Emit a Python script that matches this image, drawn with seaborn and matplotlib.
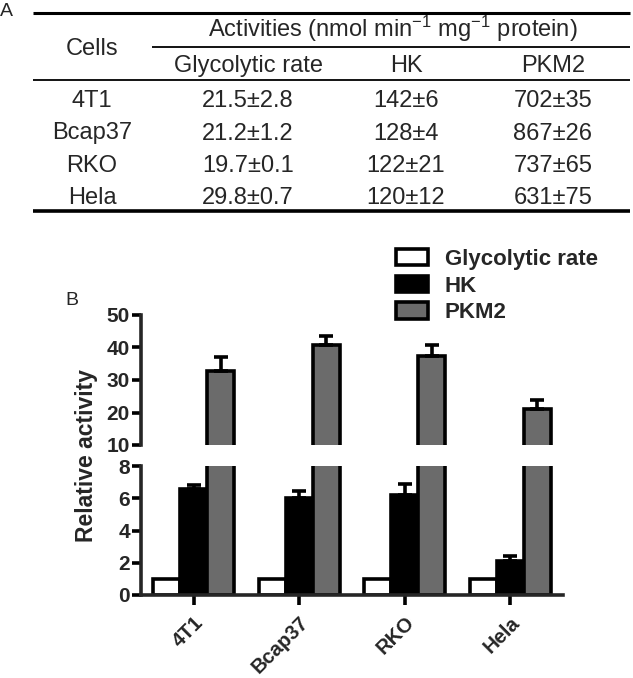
"""
Glycolytic enzyme activities in four cell lines:
  A - table of absolute activities (nmol min-1 mg-1 protein)
  B - relative activity bar chart (glycolytic rate = 1) on a broken y axis
Writes out.png (633 x 678 px).
"""

import matplotlib
matplotlib.use("Agg")
import matplotlib.pyplot as plt
from matplotlib.patches import Patch
import pandas as pd
import seaborn as sns

# ---- data -------------------------------------------------------------
CELLS = ["4T1", "Bcap37", "RKO", "Hela"]
ASSAYS = ["Glycolytic rate", "HK", "PKM2"]

# panel A (absolute activities, mean±SD as printed)
GLYCO_RATE = ["21.5±2.8", "21.2±1.2", "19.7±0.1", "29.8±0.7"]
HK_ACT = ["142±6", "128±4", "122±21", "120±12"]
PKM2_ACT = ["702±35", "867±26", "737±65", "631±75"]

# panel B (relative to glycolytic rate)
REL_GLYCO = [1.0, 1.0, 1.0, 1.0]
REL_HK = [6.6, 6.0, 6.2, 2.1]
REL_HK_SD = [0.2, 0.45, 0.7, 0.3]
REL_PKM2 = [32.7, 40.9, 37.5, 21.2]
REL_PKM2_SD = [4.4, 2.5, 3.3, 2.5]

COLORS = {"Glycolytic rate": "white", "HK": "black", "PKM2": "#6b6b6b"}
LW = 2.6

sns.set_theme(style="ticks")
plt.rcParams["font.family"] = ["Liberation Sans", "DejaVu Sans"]
plt.rcParams["mathtext.fontset"] = "custom"
plt.rcParams["mathtext.rm"] = "Liberation Sans"
plt.rcParams["mathtext.default"] = "regular"

W, H = 633, 678
fig = plt.figure(figsize=(W / 100, H / 100), dpi=100)

# ---- A: table (laid out in pixel units) -------------------------------
tab = fig.add_axes([0, 1 - 225 / H, 1, 225 / H])
tab.set_xlim(0, W)
tab.set_ylim(225, 0)
tab.axis("off")

FS = 17
col_x = [92, 248, 406, 553]
row_base = [107.3, 139.5, 171.7, 204]

tab.hlines(12.7, 33, 630, color="black", lw=2.2)
tab.hlines(46.7, 152, 630, color="black", lw=1.3)
tab.hlines(80.3, 33, 630, color="black", lw=1.3)
tab.hlines(211, 33, 630, color="black", lw=2.6)

tab.text(0, 16, "A", fontsize=14, va="baseline")
tab.text(col_x[0], 55, "Cells", fontsize=FS, ha="center", va="baseline")
tab.text(392.5, 37.3, "Activities (nmol min$^{-1}$ mg$^{-1}$ protein)",
         fontsize=FS, ha="center", va="baseline")
for x, name in zip(col_x[1:], ASSAYS):
    tab.text(x, 71.7, name, fontsize=FS, ha="center", va="baseline")
for i, cell in enumerate(CELLS):
    row = (cell, GLYCO_RATE[i], HK_ACT[i], PKM2_ACT[i])
    for x, val in zip(col_x, row):
        tab.text(x, row_base[i], val, fontsize=FS, ha="center", va="baseline")

# ---- B: broken-axis bar chart -----------------------------------------
df = pd.DataFrame({
    "cell": CELLS * 3,
    "assay": [a for a in ASSAYS for _ in CELLS],
    "value": REL_GLYCO + REL_HK + REL_PKM2,
})
sds = [None, REL_HK_SD, REL_PKM2_SD]

left, width = 141 / W, 422 / W
ax_hi = fig.add_axes([left, 1 - 445 / H, width, 130 / H])
ax_lo = fig.add_axes([left, 1 - 595 / H, width, 129 / H])

for ax in (ax_hi, ax_lo):
    sns.barplot(
        data=df, x="cell", y="value", hue="assay",
        order=CELLS, hue_order=ASSAYS, palette=COLORS,
        width=0.77, saturation=1, edgecolor="black", linewidth=LW,
        errorbar=None, legend=False, ax=ax,
    )
    for cont, sd in zip(ax.containers, sds):
        if sd is None:
            continue
        xs = [p.get_x() + p.get_width() / 2 for p in cont.patches]
        ys = [p.get_height() for p in cont.patches]
        ax.errorbar(xs, ys, yerr=[[0] * len(sd), sd], fmt="none",
                    ecolor="black", elinewidth=LW, capsize=5, capthick=LW)
    ax.set_xlabel("")
    ax.set_ylabel("")
    ax.set_xlim(-0.5, 3.5)
    for side in ("top", "right"):
        ax.spines[side].set_visible(False)
    for side in ("left", "bottom"):
        ax.spines[side].set_linewidth(LW)
    ax.tick_params(axis="both", length=6.5, width=LW, labelsize=15, pad=1.5,
                   color="black")

ax_hi.set_ylim(10, 50)
ax_hi.set_yticks([10, 20, 30, 40, 50])
ax_hi.spines["bottom"].set_visible(False)
ax_hi.tick_params(axis="x", bottom=False, labelbottom=False)
for lab in ax_hi.get_yticklabels():
    lab.set_fontweight("bold")

ax_lo.set_ylim(0, 8)
ax_lo.set_yticks([0, 2, 4, 6, 8])
ax_lo.set_xticks(range(len(CELLS)))
ax_lo.set_xticklabels(CELLS, rotation=45, ha="right", rotation_mode="anchor",
                      fontweight="bold", fontsize=14.5)
ax_lo.tick_params(axis="x", length=7, pad=6)
for lab in ax_lo.get_yticklabels():
    lab.set_fontweight("bold")

fig.text(86.7 / W, 1 - 456 / H, "Relative activity", rotation=90,
         fontsize=16.5, fontweight="bold", ha="center", va="center")
fig.text(65 / W, 1 - 305 / H, "B", fontsize=14, va="baseline")

handles = [Patch(facecolor=COLORS[a], edgecolor="black", linewidth=LW, label=a)
           for a in ASSAYS]
fig.legend(handles=handles, loc="upper left",
           bbox_to_anchor=(396 / W, 1 - 249 / H), frameon=False,
           prop=dict(weight="bold", size=16), handlelength=1.45,
           handleheight=0.75, handletextpad=0.75, labelspacing=0.25,
           borderpad=0, borderaxespad=0)

fig.savefig("out.png", dpi=100)
